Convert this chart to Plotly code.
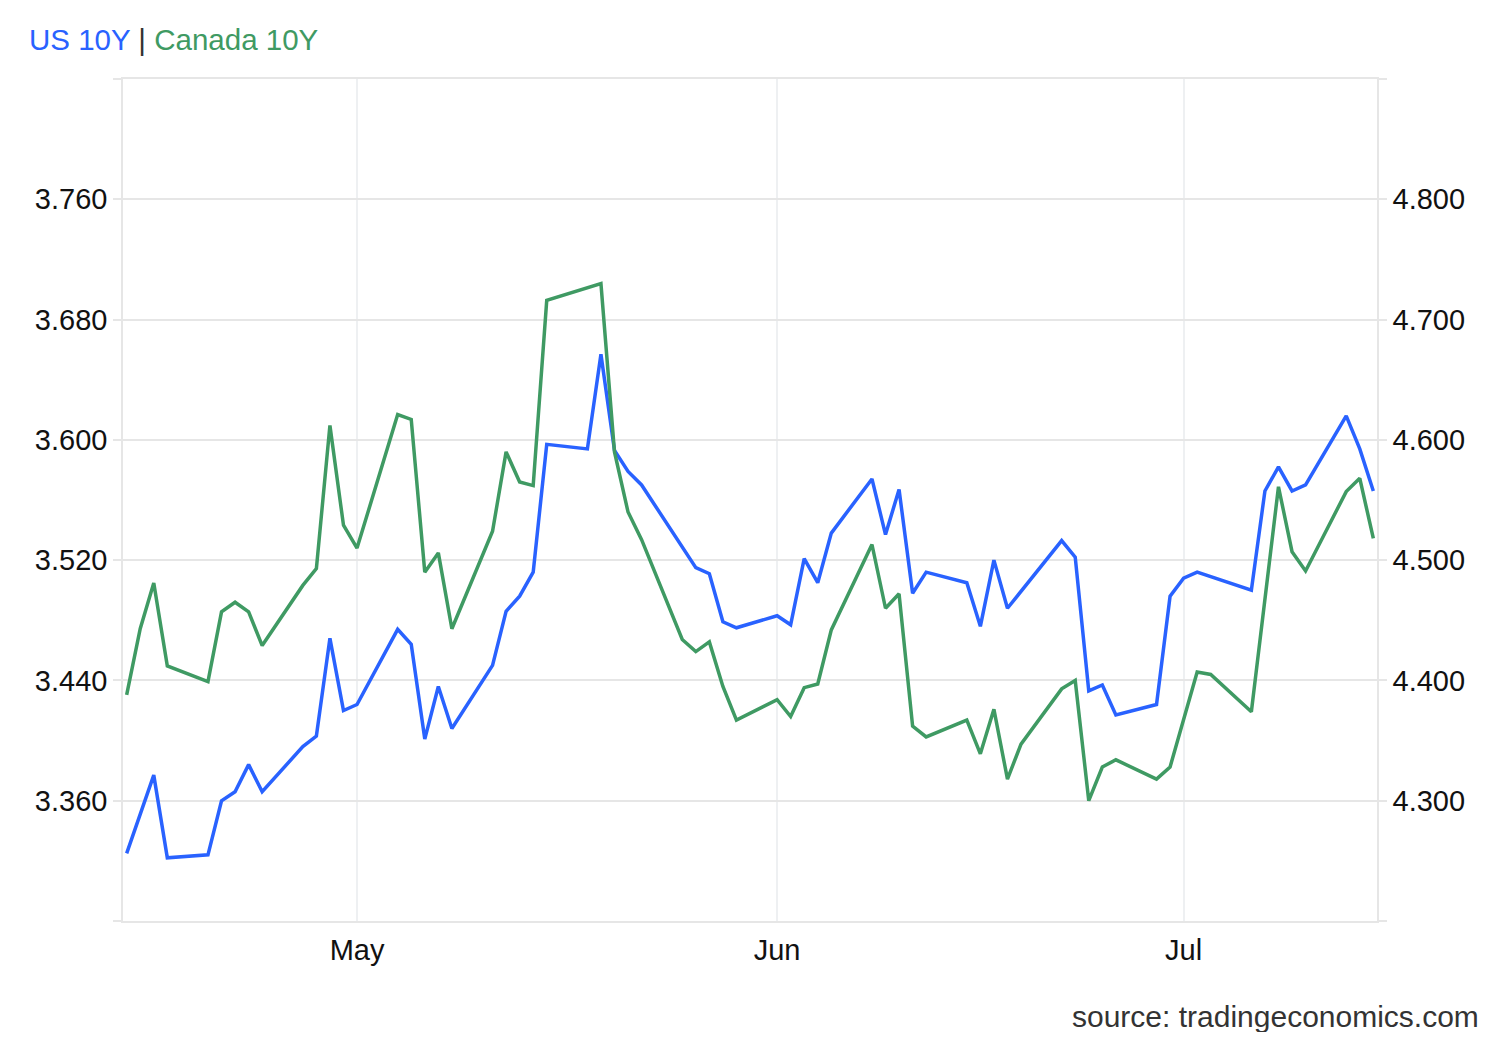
import plotly.graph_objects as go

# business days shown on the chart (None = no quote that day)
dates = [
    "2026-04-14", "2026-04-15", "2026-04-16", "2026-04-17",
    "2026-04-20", "2026-04-21", "2026-04-22", "2026-04-23", "2026-04-24",
    "2026-04-27", "2026-04-28", "2026-04-29", "2026-04-30", "2026-05-01",
    "2026-05-04", "2026-05-05", "2026-05-06", "2026-05-07", "2026-05-08",
    "2026-05-11", "2026-05-12", "2026-05-13", "2026-05-14", "2026-05-15",
    "2026-05-18", "2026-05-19", "2026-05-20", "2026-05-21", "2026-05-22",
    "2026-05-25", "2026-05-26", "2026-05-27", "2026-05-28", "2026-05-29",
    "2026-06-01", "2026-06-02", "2026-06-03", "2026-06-04", "2026-06-05",
    "2026-06-08", "2026-06-09", "2026-06-10", "2026-06-11", "2026-06-12",
    "2026-06-15", "2026-06-16", "2026-06-17", "2026-06-18", "2026-06-19",
    "2026-06-22", "2026-06-23", "2026-06-24", "2026-06-25", "2026-06-26",
    "2026-06-29", "2026-06-30", "2026-07-01", "2026-07-02", "2026-07-03",
    "2026-07-06", "2026-07-07", "2026-07-08", "2026-07-09", "2026-07-10",
    "2026-07-13", "2026-07-14", "2026-07-15",
]

us_10y = [
    3.325, None, 3.377, 3.322,
    3.324, 3.360, 3.366, 3.384, 3.366,
    3.396, 3.403, 3.468, 3.420, 3.424,
    3.474, 3.464, 3.401, 3.436, 3.408,
    3.450, 3.486, 3.496, 3.512, 3.597,
    3.594, 3.657, 3.593, 3.579, 3.570,
    None, 3.515, 3.511, 3.479, 3.475,
    3.483, 3.477, 3.521, 3.505, 3.538,
    3.574, 3.537, 3.567, 3.498, 3.512,
    3.505, 3.476, 3.520, 3.488, None,
    3.533, 3.522, 3.433, 3.437, 3.417,
    3.424, 3.496, 3.508, 3.512, None,
    3.500, 3.566, 3.582, 3.566, 3.570,
    3.616, 3.594, 3.566,
]

canada_10y = [
    4.388, 4.443, 4.481, 4.412,
    4.399, 4.457, 4.465, 4.457, 4.429,
    4.479, 4.493, 4.612, 4.529, 4.510,
    4.621, 4.617, 4.490, 4.506, 4.443,
    4.524, 4.590, 4.565, 4.562, 4.716,
    None, 4.730, 4.590, 4.540, 4.517,
    4.434, 4.424, 4.432, 4.395, 4.367,
    4.384, 4.370, 4.394, 4.397, 4.442,
    4.513, 4.460, 4.472, 4.362, 4.353,
    4.367, 4.339, 4.376, 4.318, 4.347,
    4.393, 4.400, 4.300, 4.328, 4.334,
    4.318, 4.328, None, 4.407, 4.405,
    4.374, None, 4.561, 4.507, 4.491,
    4.557, 4.568, 4.518,
]

left_ticks = [3.28, 3.36, 3.44, 3.52, 3.60, 3.68, 3.76, 3.84]
right_ticks = [4.2, 4.3, 4.4, 4.5, 4.6, 4.7, 4.8, 4.9]
month_ticks = ["2026-05-01", "2026-06-01", "2026-07-01"]
month_labels = ["May", "Jun", "Jul"]

BLUE = "#2962ff"
GREEN = "#3f9a63"
GRID = "#e6e6e6"
FONT = "Liberation Sans, Arial, sans-serif"

fig = go.Figure()

fig.add_trace(go.Scatter(
    x=dates, y=us_10y, name="US 10Y", mode="lines",
    line=dict(color=BLUE, width=3.5), connectgaps=True, yaxis="y",
))
fig.add_trace(go.Scatter(
    x=dates, y=canada_10y, name="Canada 10Y", mode="lines",
    line=dict(color=GREEN, width=3.5), connectgaps=True, yaxis="y2",
))


def label(v, ends):
    # first and last tick only get a tick mark, no text
    return "" if v in ends else f"{v:.3f}"


# page body has an 8px margin, so the figure is a bit smaller than the window
fig.update_layout(
    width=1484, height=1024,
    margin=dict(l=115, r=115, t=71, b=111),
    paper_bgcolor="white", plot_bgcolor="white",
    showlegend=False,
    font=dict(family=FONT, size=29, color="#111111"),
    xaxis=dict(
        type="date",
        range=["2026-04-13 17:30", "2026-07-15 06:30"],
        tickvals=month_ticks, ticktext=month_labels,
        showgrid=True, gridcolor="#eef0f2", gridwidth=1.5,
        showline=True, mirror=True, linecolor=GRID, linewidth=1.5,
        ticks="", zeroline=False, ticklabelstandoff=2,
        tickfont=dict(size=29, color="#111111"),
    ),
    yaxis=dict(
        range=[3.28, 3.84],
        tickvals=left_ticks,
        ticktext=[label(v, (3.28, 3.84)) for v in left_ticks],
        showgrid=True, gridcolor=GRID, gridwidth=1.5,
        showline=True, linecolor=GRID, linewidth=1.5,
        ticks="outside", ticklen=8, tickcolor=GRID, tickwidth=1.5,
        zeroline=False,
        tickfont=dict(size=29, color="#111111"),
    ),
    yaxis2=dict(
        range=[4.2, 4.9], overlaying="y", side="right",
        tickvals=right_ticks,
        ticktext=[label(v, (4.2, 4.9)) for v in right_ticks],
        showgrid=False,
        showline=True, linecolor=GRID, linewidth=1.5,
        ticks="outside", ticklen=8, tickcolor=GRID, tickwidth=1.5,
        zeroline=False,
        tickfont=dict(size=29, color="#111111"),
    ),
)

# header: coloured series names
fig.add_annotation(
    xref="paper", yref="paper", x=-0.0766, y=1.047,
    xanchor="left", yanchor="middle", showarrow=False,
    text=(f'<span style="color:{BLUE}">US 10Y</span>'
          f'<span style="color:#333333"> | </span>'
          f'<span style="color:{GREEN}">Canada 10Y</span>'),
    font=dict(family=FONT, size=29.5),
)

fig.add_annotation(
    xref="paper", yref="paper", x=1.083, y=-0.113,
    xanchor="right", yanchor="middle", showarrow=False,
    text="source: tradingeconomics.com",
    font=dict(family=FONT, size=30, color="#333333"),
)

fig.write_html("out.html")
